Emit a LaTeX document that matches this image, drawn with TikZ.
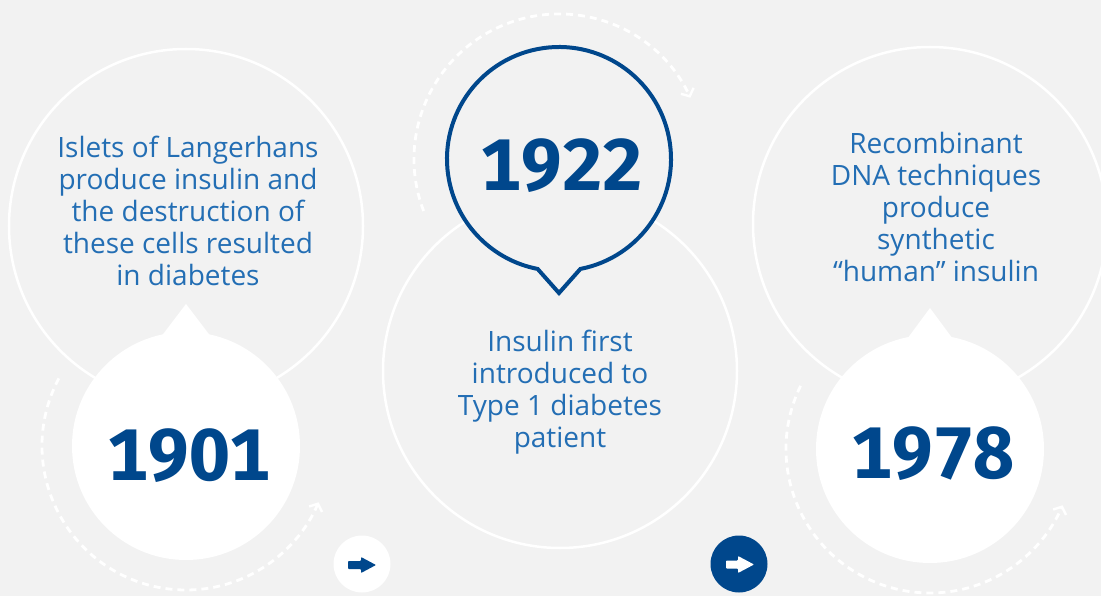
\documentclass[tikz,border=0pt]{standalone}
\usepackage{fontspec}
\setmainfont{Open Sans}
\newfontfamily\yearfont[Numbers=Monospaced]{Fira Sans}
\usetikzlibrary{arrows.meta}
\definecolor{bg}{HTML}{F2F2F2}
\definecolor{deepblue}{RGB}{0,71,140}
\definecolor{textblue}{RGB}{35,110,180}
\begin{document}
\begin{tikzpicture}[x=1pt,y=-1pt,
  ring/.style={draw=white,line width=2.5pt},
  dashring/.style={draw=white,line width=2.8pt,dash pattern=on 7pt off 5pt,-{Straight Barb[length=6pt,width=14pt,line width=2.4pt]}},
  desc/.style={text=textblue,font=\fontsize{28}{32}\selectfont,align=center},
  year/.style={text=deepblue,font=\yearfont\bfseries\fontsize{73}{73}\selectfont},
  bubble/.style={fill=white},
  btn/.style={circle,inner sep=0pt,minimum size=57pt}]
\fill[bg] (0,0) rectangle (1101,596);
\useasboundingbox (0,0) rectangle (1101,596);
% large outline rings
\draw[ring] (186,226) circle[radius=177];
\draw[ring] (560,371) circle[radius=177];
\draw[ring] (930,224) circle[radius=177];
% dashed arcs
\draw[dashring] (186,446) ++(208:144) arc[start angle=208, end angle=23, radius=144];
\draw[dashring] (559,159) ++(159:145) arc[start angle=159, end angle=335, radius=145];
\draw[dashring] (930,449) ++(206:144) arc[start angle=206, end angle=23, radius=144];
% 1901 bubble
\fill[bubble] (186,446) circle[radius=114];
\fill[bubble] (151,350) -- (186,304) -- (221,350) -- cycle;
% 1978 bubble
\fill[bubble] (930,449) circle[radius=114];
\fill[bubble] (896,354) -- (930,308) -- (964,354) -- cycle;
% 1922 bubble
\draw[deepblue, line width=4pt, fill=bg] (559,159) ++(79:112) arc[start angle=79, end angle=-259, radius=112] -- (559,293) -- cycle;
% texts
\node[desc] (t1) at (188,211) {Islets of Langerhans\\produce insulin and\\the destruction of\\these cells resulted\\in diabetes};
\node[desc] (t2) at (560,392) {Insulin first\\introduced to\\Type 1 diabetes\\patient};
\node[desc] (t3) at (936,207) {Recombinant\\DNA techniques\\produce\\synthetic\\“human” insulin};
\node[year] (y1) at (189,456) {1901};
\node[year] (y2) at (562,166) {1922};
\node[year] (y3) at (933,454) {1978};
% buttons
\node[btn, fill=white] (prev) at (362,564) {};
\fill[deepblue, rounded corners=0.8pt] (348,561) -- (361,561) -- (361,557) -- (376,565) -- (361,573) -- (361,569) -- (348,569) -- cycle;
\node[btn, fill=deepblue] (next) at (739,564) {};
\fill[white, rounded corners=0.8pt] (726,560.5) -- (738,560.5) -- (738,556) -- (754,564.5) -- (738,573) -- (738,568.5) -- (726,568.5) -- cycle;
\end{tikzpicture}
\end{document}
